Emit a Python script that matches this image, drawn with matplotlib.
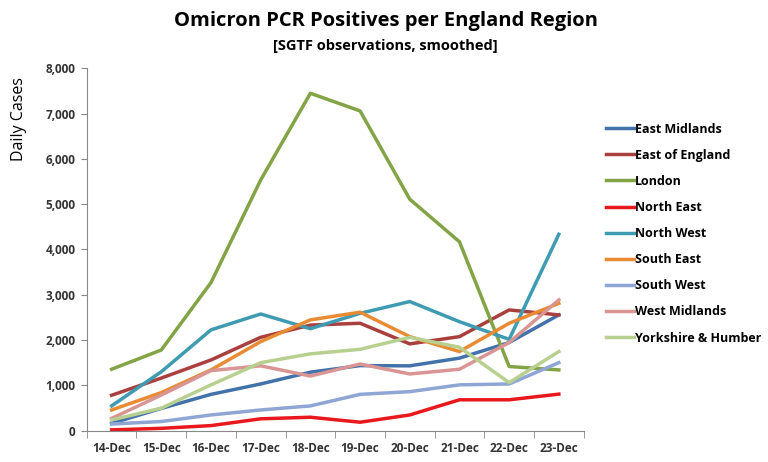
import matplotlib
matplotlib.use('Agg')
import matplotlib.pyplot as plt
import numpy as np

dates = ['14-Dec', '15-Dec', '16-Dec', '17-Dec', '18-Dec', '19-Dec',
         '20-Dec', '21-Dec', '22-Dec', '23-Dec']

east_midlands = [160, 490, 800, 1030, 1290, 1435, 1430, 1600, 1945, 2555]
east_of_england = [780, 1160, 1560, 2060, 2330, 2370, 1915, 2075, 2665, 2555]
london = [1355, 1780, 3270, 5535, 7450, 7060, 5110, 4170, 1415, 1340]
north_east = [15, 50, 110, 260, 295, 185, 345, 680, 680, 805]
north_west = [545, 1300, 2225, 2575, 2250, 2590, 2850, 2405, 2015, 4335]
south_east = [455, 840, 1340, 1965, 2445, 2615, 2075, 1745, 2370, 2810]
south_west = [145, 200, 345, 455, 545, 800, 860, 1010, 1030, 1500]
west_midlands = [270, 785, 1325, 1430, 1205, 1470, 1250, 1355, 1945, 2885]
yorkshire = [235, 495, 1010, 1500, 1695, 1795, 2060, 1840, 1060, 1745]

series = [
    ('East Midlands', east_midlands, '#4372AA'),
    ('East of England', east_of_england, '#A9403E'),
    ('London', london, '#83A446'),
    ('North East', north_east, '#E8181C'),
    ('North West', north_west, '#3F9BB1'),
    ('South East', south_east, '#E88B34'),
    ('South West', south_west, '#8FA6D4'),
    ('West Midlands', west_midlands, '#D99594'),
    ('Yorkshire & Humber', yorkshire, '#B8D08F'),
]

plt.rcParams['font.family'] = ['Open Sans', 'DejaVu Sans']

fig = plt.figure(figsize=(7.68, 4.62), dpi=100)
ax = fig.add_axes([0.113, 0.068, 0.647, 0.784])

x = np.arange(len(dates))
for name, vals, col in series:
    ax.plot(x, vals, color=col, lw=2.5, label=name)

ax.set_xlim(-0.5, len(dates) - 0.5)
ax.set_ylim(0, 8000)
ax.set_yticks(np.arange(0, 8001, 1000))
ax.set_yticklabels(['{:,}'.format(v) for v in range(0, 8001, 1000)],
                   fontsize=8.5, fontweight='bold', color='#333333')
ax.set_xticks(x)
ax.set_xticklabels(dates, fontsize=8.5, fontweight='bold', color='#333333')
ax.set_xticks(np.arange(-0.5, len(dates), 1), minor=True)
ax.tick_params(axis='x', which='major', length=0, pad=8)
ax.tick_params(axis='x', which='minor', length=5, color='#888888')
ax.tick_params(axis='y', length=4, color='#888888', pad=4)

for s in ['top', 'right']:
    ax.spines[s].set_visible(False)
for s in ['left', 'bottom']:
    ax.spines[s].set_color('#888888')

ax.set_ylabel('Daily Cases', fontsize=11.5)
ax.yaxis.set_label_coords(-0.12, 0.86)

fig.text(0.502, 0.955, 'Omicron PCR Positives per England Region',
         ha='center', va='center', fontsize=14.5, fontweight='bold')
fig.text(0.502, 0.9, '[SGTF observations, smoothed]',
         ha='center', va='center', fontsize=10.5, fontweight='bold')

leg = fig.legend(loc='upper left', bbox_to_anchor=(0.775, 0.759), frameon=False,
                 prop={'size': 9, 'weight': 'bold'}, handlelength=2.2,
                 handletextpad=0.1, labelspacing=1.05)

plt.savefig('out.png', dpi=100)
